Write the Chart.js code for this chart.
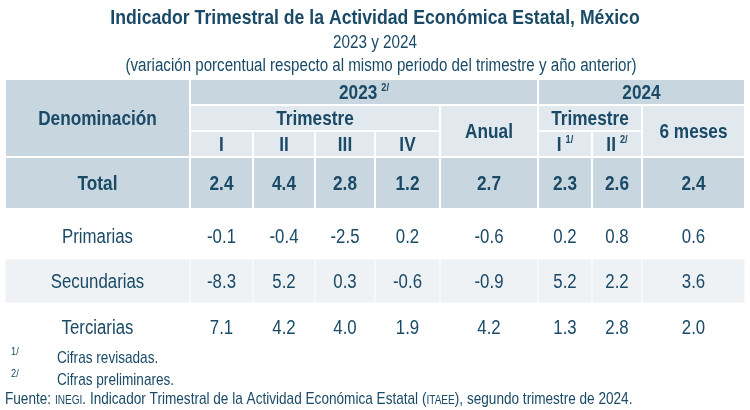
<!DOCTYPE html>
<html><head><meta charset="utf-8">
<script src="https://cdn.jsdelivr.net/npm/chart.js@4.4.1/dist/chart.umd.min.js"></script>
<style>html,body{margin:0;padding:0;background:#fff;}canvas{display:block}</style>
</head><body>
<div style="width:750px;height:410px"><canvas id="c" width="750" height="410"></canvas></div>
<script>
// ---------- DATA ----------
const titleText = 'Indicador Trimestral de la Actividad Económica Estatal, México';
const subtitleYears = '2023 y 2024';
const subtitleNote = '(variación porcentual respecto al mismo periodo del trimestre y año anterior)';
const headerLabel = 'Denominación';
const year2023 = '2023';
const year2024 = '2024';
const quarterHeader = 'Trimestre';
const quarters2023 = ['I', 'II', 'III', 'IV'];
const annualLabel = 'Anual';
const quarters2024 = ['I', 'II'];
const quarterNotes2024 = ['1/', '2/'];
const halfYearLabel = '6 meses';
const rowLabels = ['Total', 'Primarias', 'Secundarias', 'Terciarias'];
const totalValues       = [2.4, 4.4, 2.8, 1.2, 2.7, 2.3, 2.6, 2.4];
const primariasValues   = [-0.1, -0.4, -2.5, 0.2, -0.6, 0.2, 0.8, 0.6];
const secundariasValues = [-8.3, 5.2, 0.3, -0.6, -0.9, 5.2, 2.2, 3.6];
const terciariasValues  = [7.1, 4.2, 4.0, 1.9, 4.2, 1.3, 2.8, 2.0];
const footnoteMarks = ['1/', '2/'];
const footnoteTexts = ['Cifras revisadas.', 'Cifras preliminares.'];
const sourceParts = ['Fuente: ', 'INEGI', '. Indicador Trimestral de la Actividad Económica Estatal (', 'ITAEE', '), segundo trimestre de 2024.'];

// ---------- LAYOUT / STYLE ----------
const L = {
  left: 5, top: 79,
  colWidths: [185, 63, 62, 60, 65, 98, 54, 50, 103],
  rowHeights: [26, 26, 26, 52, 50, 44, 47],
  sx: 0.84,
  font: '"Liberation Sans", Arial, sans-serif'
};
const C = {
  text: '#1a4a66', dark: '#c8d6df', light: '#e1e9ee', stripe: '#eef2f5'
};
const colEdges = [L.left];
L.colWidths.forEach(w => colEdges.push(colEdges[colEdges.length - 1] + w));
const rowEdges = [L.top];
L.rowHeights.forEach(h => rowEdges.push(rowEdges[rowEdges.length - 1] + h));
const colCenter = i => (colEdges[i] + colEdges[i + 1]) / 2;
const rowCenter = r => (rowEdges[r] + rowEdges[r + 1]) / 2;

const valueRows = [totalValues, primariasValues, secundariasValues, terciariasValues];
const datasets = valueRows.map((vals, r) => ({
  label: rowLabels[r],
  data: vals.map((v, i) => ({ x: colCenter(i + 1), y: rowCenter(r + 3), v })),
  pointRadius: 0, showLine: false, bold: r === 0
}));

// ---------- TEXT HELPERS ----------
function setFont(ctx, size, weight) { ctx.font = `${weight} ${size}px ${L.font}`; }
function measureRuns(ctx, runs) {
  let w = 0;
  runs.forEach(r => { setFont(ctx, r.size, r.weight || 'normal'); r.w = ctx.measureText(r.t).width * L.sx; w += r.w + (r.gap || 0); });
  return w;
}
function drawRuns(ctx, runs, x, baseline, align) {
  const total = measureRuns(ctx, runs);
  let cx = align === 'center' ? x - total / 2 : (align === 'right' ? x - total : x);
  runs.forEach(r => {
    cx += (r.gap || 0);
    ctx.save();
    setFont(ctx, r.size, r.weight || 'normal');
    ctx.fillStyle = C.text;
    ctx.textAlign = 'left';
    ctx.textBaseline = 'alphabetic';
    ctx.translate(cx, baseline - (r.rise || 0));
    ctx.scale(L.sx, 1);
    ctx.fillText(r.t, 0, 0);
    ctx.restore();
    cx += r.w;
  });
}
function textMid(ctx, runs, x, yc, align) {
  const main = runs[0].size;
  drawRuns(ctx, runs, x, yc + main * 0.36, align || 'center');
}

const HS = 20.5, BS = 20;

const tablePlugin = {
  id: 'tablePlugin',
  beforeDatasetsDraw(chart) {
    const ctx = chart.ctx, xs = chart.scales.x, ys = chart.scales.y;
    const px = v => xs.getPixelForValue(v), py = v => ys.getPixelForValue(v);
    function cell(c0, c1, r0, r1, color, inset) {
      const x0 = px(colEdges[c0]) + inset, x1 = px(colEdges[c1 + 1]) - inset;
      const y0 = py(rowEdges[r0]) + inset, y1 = py(rowEdges[r1 + 1]) - inset;
      ctx.fillStyle = color;
      ctx.fillRect(x0, y0, x1 - x0, y1 - y0);
    }
    // header
    cell(0, 0, 0, 2, C.dark, 1);
    cell(1, 5, 0, 0, C.dark, 1);
    cell(6, 8, 0, 0, C.dark, 1);
    cell(1, 4, 1, 1, C.light, 1);
    cell(5, 5, 1, 2, C.light, 1);
    cell(6, 7, 1, 1, C.light, 1);
    cell(8, 8, 1, 2, C.light, 1);
    for (let c = 1; c <= 4; c++) cell(c, c, 2, 2, C.light, 1);
    cell(6, 6, 2, 2, C.light, 1);
    cell(7, 7, 2, 2, C.light, 1);
    // total row
    for (let c = 0; c <= 8; c++) cell(c, c, 3, 3, C.dark, 1);
    // stripe row (Secundarias)
    for (let c = 0; c <= 8; c++) cell(c, c, 5, 5, C.stripe, 0.5);

    // header texts
    textMid(ctx, [{ t: headerLabel, size: HS, weight: 'bold' }], px(colCenter(0)), py((rowEdges[0] + rowEdges[3]) / 2));
    textMid(ctx, [{ t: year2023, size: HS, weight: 'bold' }, { t: '2/', size: 11, weight: 'bold', rise: 8, gap: 4 }],
      px((colEdges[1] + colEdges[6]) / 2), py(rowCenter(0)));
    textMid(ctx, [{ t: year2024, size: HS, weight: 'bold' }], px((colEdges[6] + colEdges[9]) / 2), py(rowCenter(0)));
    textMid(ctx, [{ t: quarterHeader, size: HS, weight: 'bold' }], px((colEdges[1] + colEdges[5]) / 2), py(rowCenter(1)));
    textMid(ctx, [{ t: annualLabel, size: HS, weight: 'bold' }], px(colCenter(5)), py((rowEdges[1] + rowEdges[3]) / 2));
    textMid(ctx, [{ t: quarterHeader, size: HS, weight: 'bold' }], px((colEdges[6] + colEdges[8]) / 2), py(rowCenter(1)));
    textMid(ctx, [{ t: halfYearLabel, size: HS, weight: 'bold' }], px(colCenter(8)), py((rowEdges[1] + rowEdges[3]) / 2));
    quarters2023.forEach((q, i) => textMid(ctx, [{ t: q, size: HS, weight: 'bold' }], px(colCenter(i + 1)), py(rowCenter(2))));
    quarters2024.forEach((q, i) => textMid(ctx, [{ t: q, size: HS, weight: 'bold' }, { t: quarterNotes2024[i], size: 11, weight: 'bold', rise: 8, gap: 4 }],
      px(colCenter(i + 6)), py(rowCenter(2))));
    // row labels
    rowLabels.forEach((lab, r) => textMid(ctx, [{ t: lab, size: r === 0 ? HS : BS, weight: r === 0 ? 'bold' : 'normal' }],
      px(colCenter(0)), py(rowCenter(r + 3) + (r === 1 ? 2 : 0))));
  },
  afterDatasetsDraw(chart) {
    const ctx = chart.ctx;
    chart.data.datasets.forEach((ds, di) => {
      const meta = chart.getDatasetMeta(di);
      meta.data.forEach((el, i) => {
        const v = ds.data[i].v;
        textMid(ctx, [{ t: v.toFixed(1), size: ds.bold ? HS : BS, weight: ds.bold ? 'bold' : 'normal' }], el.x, el.y + (di === 1 ? 2 : 0));
      });
    });
    // title block
    drawRuns(ctx, [{ t: titleText, size: 21, weight: 'bold' }], 375, 24, 'center');
    drawRuns(ctx, [{ t: subtitleYears, size: 18.2 }], 375, 48, 'center');
    drawRuns(ctx, [{ t: subtitleNote, size: 18 }], 381, 71, 'center');
    // footnotes
    footnoteMarks.forEach((m, i) => {
      drawRuns(ctx, [{ t: m, size: 11 }], 11, 355 + i * 22, 'left');
      drawRuns(ctx, [{ t: footnoteTexts[i], size: 16.2 }], 57, 363 + i * 22, 'left');
    });
    drawRuns(ctx, [
      { t: sourceParts[0], size: 16.2 }, { t: sourceParts[1], size: 12 }, { t: sourceParts[2], size: 16.2 },
      { t: sourceParts[3], size: 12 }, { t: sourceParts[4], size: 16.2 }
    ], 5, 404, 'left');
  }
};

new Chart(document.getElementById('c'), {
  type: 'scatter',
  data: { datasets },
  options: {
    responsive: false, animation: false, devicePixelRatio: 1, events: [],
    layout: { padding: 0 },
    plugins: { legend: { display: false }, tooltip: { enabled: false }, title: { display: false } },
    scales: {
      x: { type: 'linear', min: 0, max: 750, display: false },
      y: { type: 'linear', min: 0, max: 410, reverse: true, display: false }
    }
  },
  plugins: [tablePlugin]
});
</script>
</body></html>
